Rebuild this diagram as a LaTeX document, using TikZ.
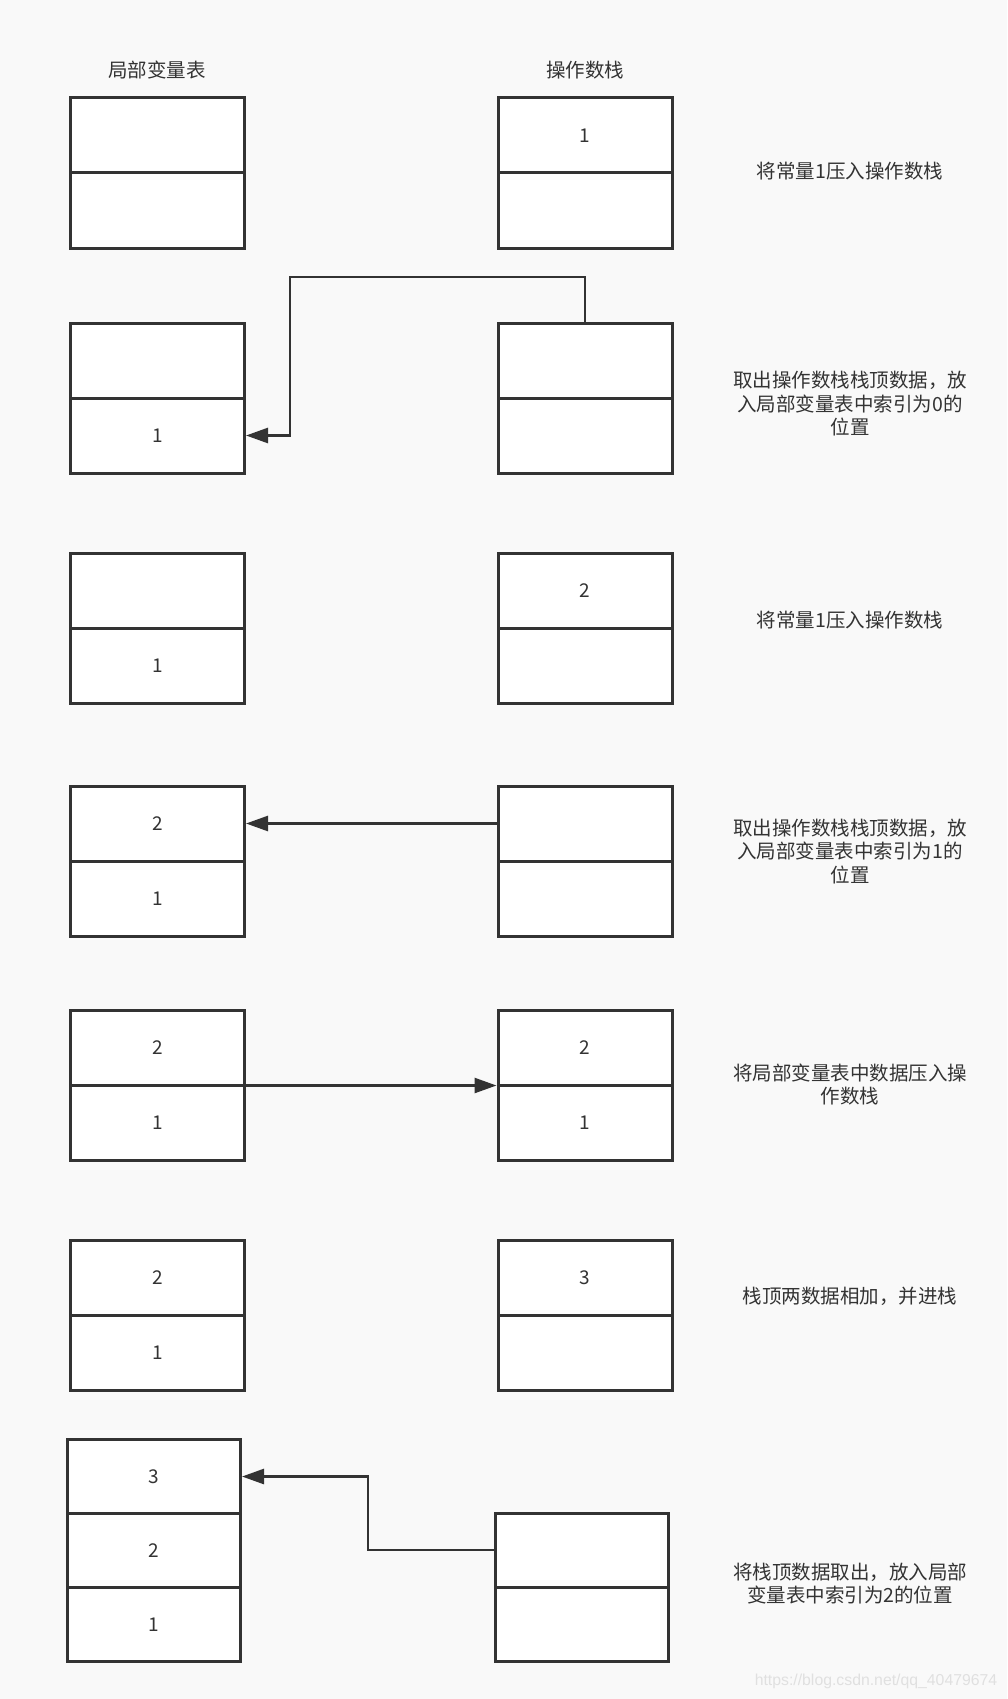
\documentclass[tikz,border=0pt]{standalone}
\usepackage{fontspec}
\setmainfont{Noto Sans CJK SC}
\newfontfamily\wmfont{Liberation Sans}
\usetikzlibrary{arrows.meta,calc}
\definecolor{bgc}{HTML}{F9F9F9}
\definecolor{linec}{HTML}{333333}
\definecolor{txtc}{HTML}{333333}
\definecolor{wmc}{HTML}{E0E0E0}
\tikzset{
  cell/.style={draw=linec, fill=white, line width=3pt, rectangle, inner sep=0pt,
    minimum width=174pt, minimum height=75pt, text=txtc,
    font=\fontsize{19pt}{23pt}\selectfont},
  cellc/.style={cell, minimum width=173pt, minimum height=74pt},
  conn/.style={draw=linec, line width=2.6pt,
    -{Triangle[length=22pt,width=15pt]}},
  hdr/.style={text=txtc, font=\fontsize{19.5pt}{23.5pt}\selectfont, inner sep=0pt},
  lbl/.style={text=txtc, align=center, font=\fontsize{19.5pt}{23.5pt}\selectfont, inner sep=0pt},
}
\begin{document}
\begin{tikzpicture}[x=1pt,y=-1pt]
\fill[bgc] (0,0) rectangle (1007,1699);
\useasboundingbox (0,0) rectangle (1007,1699);

% headers
\node[hdr] (hL) at (157,70) {局部变量表};
\node[hdr] (hR) at (585,70) {操作数栈};

% row 1
\node[cell] (L1a) at (157.5,135.5) {};
\node[cell] (L1b) at (157.5,210.5) {};
\node[cell] (R1a) at (585,135.5) {1};
\node[cell] (R1b) at (585,210.5) {};
\node[lbl] (t1) at (850,171) {将常量1压入操作数栈};

% row 2
\node[cell] (L2a) at (157.5,360.5) {};
\node[cell] (L2b) at (157.5,435.5) {1};
\node[cell] (R2a) at (585,360.5) {};
\node[cell] (R2b) at (585,435.5) {};
\node[lbl] (t2) at (850,404) {取出操作数栈栈顶数据，放\\入局部变量表中索引为0的\\位置};
\coordinate (k2) at (290,277);
\draw[conn] (R2a.north) |- (k2) |- (L2b.east);

% row 3
\node[cell] (L3a) at (157.5,591) {};
\node[cell] (L3b) at (157.5,666) {1};
\node[cell] (R3a) at (585,591) {2};
\node[cell] (R3b) at (585,666) {};
\node[lbl] (t3) at (850,620) {将常量1压入操作数栈};

% row 4
\node[cell] (L4a) at (157.5,823.5) {2};
\node[cell] (L4b) at (157.5,898.5) {1};
\node[cell] (R4a) at (585,823.5) {};
\node[cell] (R4b) at (585,898.5) {};
\node[lbl] (t4) at (850,851.5) {取出操作数栈栈顶数据，放\\入局部变量表中索引为1的\\位置};
\draw[conn] (R4a.west) -- (L4a.east);

% row 5
\node[cell] (L5a) at (157.5,1048) {2};
\node[cell] (L5b) at (157.5,1123) {1};
\node[cell] (R5a) at (585,1048) {2};
\node[cell] (R5b) at (585,1123) {1};
\node[lbl] (t5) at (850,1084.5) {将局部变量表中数据压入操\\作数栈};
\draw[conn] ($(L5a.south east)!.5!(L5b.north east)$) -- ($(R5a.south west)!.5!(R5b.north west)$);

% row 6
\node[cell] (L6a) at (157.5,1277.5) {2};
\node[cell] (L6b) at (157.5,1352.5) {1};
\node[cell] (R6a) at (585,1277.5) {3};
\node[cell] (R6b) at (585,1352.5) {};
\node[lbl] (t6) at (850,1296.5) {栈顶两数据相加，并进栈};

% row 7
\node[cellc] (L7a) at (154,1476.5) {3};
\node[cellc] (L7b) at (154,1550.5) {2};
\node[cellc] (L7c) at (154,1624.5) {1};
\node[cellc] (R7a) at (582,1550) {};
\node[cellc] (R7b) at (582,1624) {};
\node[lbl] (t7) at (850,1583.5) {将栈顶数据取出，放入局部\\变量表中索引为2的位置};
\coordinate (k7) at (368,1476.5);
\draw[conn] (R7a.west) -| (k7) -- (L7a.east);

% watermark
\node[text=wmc, font=\wmfont\fontsize{15.8pt}{18pt}\selectfont, inner sep=0pt] (wm) at (876,1681) {https://blog.csdn.net/qq\_40479674};
\end{tikzpicture}
\end{document}
